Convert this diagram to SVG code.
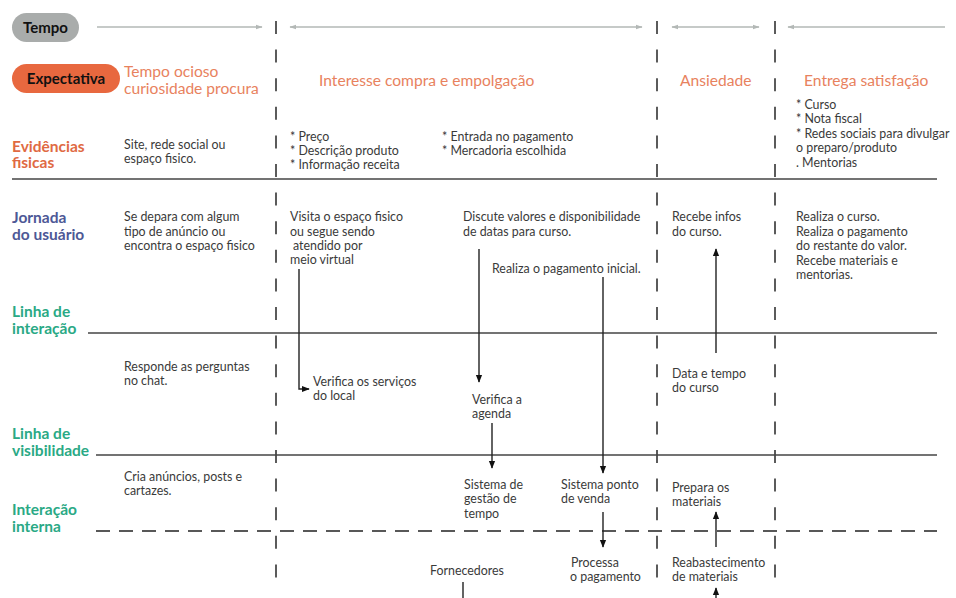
<svg xmlns="http://www.w3.org/2000/svg" width="956" height="598" viewBox="0 0 956 598">
<style>
text{font-family:"Lato","Open Sans","Liberation Sans",sans-serif}
.b{font-size:12.4px;fill:#3a3a3a}
.h{font-size:15.5px;font-weight:bold}
.or{fill:#e06a43}
.bl{fill:#4d5896}
.gr{fill:#2aa985}
.ex{font-size:15.6px;fill:#e8825e}
.pill{font-size:15px;font-weight:bold;fill:#111}
.div{stroke:#333;stroke-width:1.6;stroke-dasharray:13 15.6;fill:none}
.ln{stroke:#444;stroke-width:1.6;fill:none}
.dl{stroke:#222;stroke-width:1.6;stroke-dasharray:14 9;fill:none}
.t{stroke:#b3b8b6;stroke-width:1.5;fill:none}
.c{stroke:#222;stroke-width:1.4;fill:none}
</style>
<defs>
<marker id="ta" viewBox="0 0 10 10" refX="9" refY="5" markerWidth="7" markerHeight="7" orient="auto-start-reverse" markerUnits="userSpaceOnUse"><path d="M0,1.5 L10,5 L0,8.5 z" fill="#b3b8b6"/></marker>
<marker id="ah" viewBox="0 0 10 10" refX="9" refY="5" markerWidth="8" markerHeight="8" orient="auto" markerUnits="userSpaceOnUse"><path d="M0,1 L10,5 L0,9 z" fill="#111"/></marker>
</defs>
<rect width="956" height="598" fill="#fff"/>

<g id="grid">
<line class="div" x1="276" y1="21" x2="276" y2="583"/>
<line class="div" x1="657" y1="21" x2="657" y2="583"/>
<line class="div" x1="775" y1="21" x2="775" y2="583"/>
<line class="ln" x1="12" y1="179" x2="937" y2="179"/>
<line class="ln" x1="88" y1="333" x2="937" y2="333"/>
<line class="ln" x1="96" y1="455" x2="937" y2="455"/>
<line class="dl" x1="96" y1="531" x2="937" y2="531"/>
</g>

<g id="time-arrows">
<line class="t" x1="97" y1="27" x2="262" y2="27" marker-end="url(#ta)"/>
<line class="t" x1="290" y1="27" x2="642" y2="27" marker-start="url(#ta)" marker-end="url(#ta)"/>
<line class="t" x1="672" y1="27" x2="759" y2="27" marker-start="url(#ta)" marker-end="url(#ta)"/>
<line class="t" x1="788" y1="27" x2="945" y2="27" marker-start="url(#ta)"/>
</g>

<g id="tempo">
<rect x="12" y="13" width="67" height="29" rx="14.5" fill="#a9acab"/>
<text class="pill" x="45.5" y="33" text-anchor="middle">Tempo</text>
</g>
<g id="expectativa">
<rect x="12" y="64" width="108" height="29" rx="14.5" fill="#e8683f"/>
<text class="pill" x="66" y="84" text-anchor="middle">Expectativa</text>
</g>
<g id="exp1"><text class="ex" x="124" y="77">Tempo ocioso</text><text class="ex" x="124" y="94">curiosidade procura</text></g>
<g id="exp2"><text class="ex" x="319" y="86">Interesse compra e empolgação</text></g>
<g id="exp3"><text class="ex" x="680" y="86">Ansiedade</text></g>
<g id="exp4"><text class="ex" x="804" y="86">Entrega satisfação</text></g>

<g id="lbl-evidencias"><text class="h or" x="12" y="152">Evidências</text><text class="h or" x="12" y="168">fisicas</text></g>
<g id="lbl-jornada"><text class="h bl" x="12" y="223">Jornada</text><text class="h bl" x="12" y="240">do usuário</text></g>
<g id="lbl-interacao"><text class="h gr" x="12" y="317">Linha de</text><text class="h gr" x="12" y="334">interação</text></g>
<g id="lbl-visibilidade"><text class="h gr" x="12" y="439">Linha de</text><text class="h gr" x="12" y="456">visibilidade</text></g>
<g id="lbl-interna"><text class="h gr" x="12" y="515">Interação</text><text class="h gr" x="12" y="532">interna</text></g>

<g id="ev1"><text class="b" x="124" y="149">Site, rede social ou</text><text class="b" x="124" y="163">espaço fisico.</text></g>
<g id="ev2"><text class="b" x="290" y="141">* Preço</text><text class="b" x="290" y="155">* Descrição produto</text><text class="b" x="290" y="169">* Informação receita</text></g>
<g id="ev3"><text class="b" x="442" y="141">* Entrada no pagamento</text><text class="b" x="442" y="155">* Mercadoria escolhida</text></g>
<g id="ev4"><text class="b" x="796" y="109">* Curso</text><text class="b" x="796" y="123">* Nota fiscal</text><text class="b" x="796" y="138">* Redes sociais para divulgar</text><text class="b" x="796" y="152">o preparo/produto</text><text class="b" x="796" y="167">. Mentorias</text></g>

<g id="j1"><text class="b" x="124" y="221">Se depara com algum</text><text class="b" x="124" y="236">tipo de anúncio ou</text><text class="b" x="124" y="250">encontra o espaço fisico</text></g>
<g id="j2"><text class="b" x="290" y="221">Visita o espaço fisico</text><text class="b" x="290" y="236">ou segue sendo</text><text class="b" x="293" y="250">atendido por</text><text class="b" x="290" y="264">meio virtual</text></g>
<g id="j3"><text class="b" x="463" y="221">Discute valores e disponibilidade</text><text class="b" x="463" y="236">de datas para curso.</text></g>
<g id="j4"><text class="b" x="492" y="273">Realiza o pagamento inicial.</text></g>
<g id="j5"><text class="b" x="672" y="221">Recebe infos</text><text class="b" x="672" y="236">do curso.</text></g>
<g id="j6"><text class="b" x="796" y="221">Realiza o curso.</text><text class="b" x="796" y="236">Realiza o pagamento</text><text class="b" x="796" y="250">do restante do valor.</text><text class="b" x="796" y="265">Recebe materiais e</text><text class="b" x="796" y="279">mentorias.</text></g>

<g id="f1"><text class="b" x="124" y="371">Responde as perguntas</text><text class="b" x="124" y="385">no chat.</text></g>
<g id="f2"><text class="b" x="313" y="386">Verifica os serviços</text><text class="b" x="313" y="400">do local</text></g>
<g id="f3"><text class="b" x="472" y="404">Verifica a</text><text class="b" x="472" y="418">agenda</text></g>
<g id="f4"><text class="b" x="672" y="378">Data e tempo</text><text class="b" x="672" y="392">do curso</text></g>

<g id="i1"><text class="b" x="124" y="481">Cria anúncios, posts e</text><text class="b" x="124" y="495">cartazes.</text></g>
<g id="i2"><text class="b" x="464" y="489">Sistema de</text><text class="b" x="464" y="503">gestão de</text><text class="b" x="464" y="518">tempo</text></g>
<g id="i3"><text class="b" x="561" y="489">Sistema ponto</text><text class="b" x="561" y="503">de venda</text></g>
<g id="i4"><text class="b" x="672" y="492">Prepara os</text><text class="b" x="672" y="506">materiais</text></g>

<g id="s1"><text class="b" x="430" y="575">Fornecedores</text></g>
<g id="s2"><text class="b" x="571" y="567">Processa</text><text class="b" x="570" y="581">o pagamento</text></g>
<g id="s3"><text class="b" x="672" y="567">Reabastecimento</text><text class="b" x="672" y="581">de materiais</text></g>

<g id="connectors">
<path class="c" d="M299,269 V389 H309" marker-end="url(#ah)"/>
<path class="c" d="M479,249 V382" marker-end="url(#ah)"/>
<path class="c" d="M603,277 V473" marker-end="url(#ah)"/>
<path class="c" d="M492,423 V468" marker-end="url(#ah)"/>
<path class="c" d="M603,512 V547" marker-end="url(#ah)"/>
<path class="c" d="M463,582 V598"/>
<path class="c" d="M716,353 V249" marker-end="url(#ah)"/>
<path class="c" d="M716,547 V512" marker-end="url(#ah)"/>
<path class="c" d="M716,598 V588" marker-end="url(#ah)"/>
</g>
</svg>
